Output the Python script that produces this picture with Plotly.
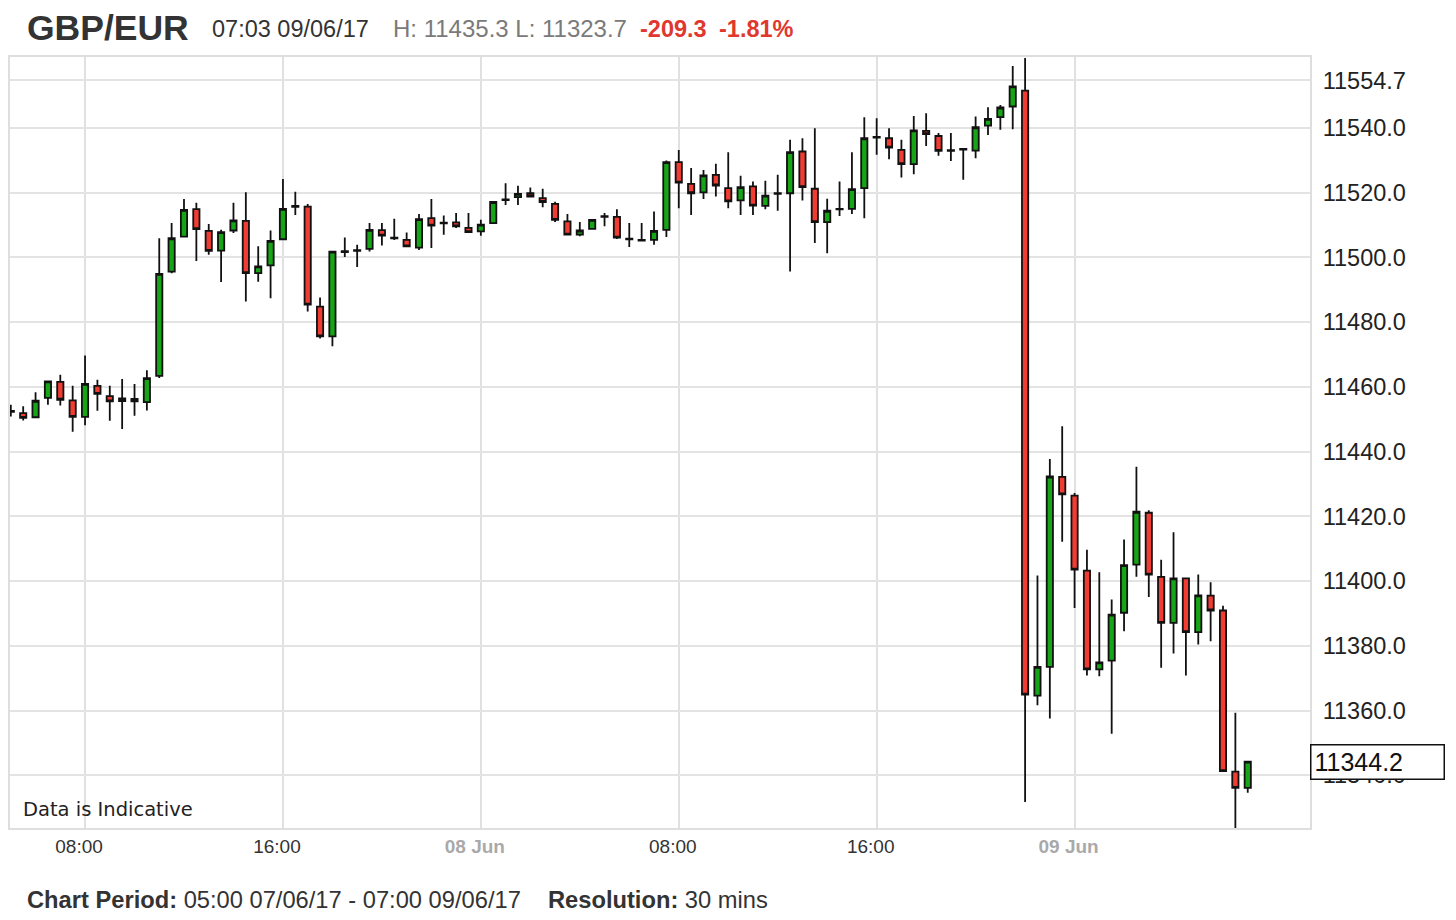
import pandas as pd
import plotly.graph_objects as go

# ---------------- data ----------------
start_time = "2017-06-07 05:00"
n_candles = 101
times = pd.date_range(start_time, periods=n_candles, freq="30min")

opens = [11452.6, 11451.9, 11450.6, 11456.6, 11461.5, 11455.8, 11450.7, 11460.3, 11457.1, 11455.6,
         11456.3, 11455.3, 11463.4, 11495.6, 11506.4, 11514.9, 11508.2, 11502.1, 11508.3, 11511.3,
         11495.1, 11497.5, 11505.6, 11515.9, 11515.7, 11484.8, 11475.6, 11501.6, 11502.0, 11502.6,
         11508.4, 11506.1, 11505.4, 11503.0, 11512.1, 11510.7, 11510.8, 11509.1, 11508.0, 11510.6,
         11517.7, 11518.6, 11519.8, 11518.3, 11516.5, 11511.1, 11507.0, 11508.8, 11512.5, 11512.5,
         11505.8, 11505.4, 11505.4, 11508.5, 11529.4, 11522.7, 11520.1, 11525.5, 11521.4, 11517.6,
         11521.9, 11515.9, 11519.6, 11519.8, 11532.7, 11521.2, 11510.9, 11514.8, 11515.0, 11521.4,
         11537.0, 11536.8, 11533.2, 11528.8, 11539.1, 11537.5, 11533.1, 11533.3, 11533.0, 11540.7,
         11543.3, 11546.6, 11551.5, 11364.6, 11373.5, 11432.2, 11426.4, 11403.2, 11372.7, 11375.4,
         11390.2, 11405.1, 11421.1, 11401.3, 11387.1, 11400.8, 11384.2, 11395.5, 11390.9, 11341.1,
         11336.1]
highs = [11454.5, 11454.0, 11458.3, 11461.9, 11463.7, 11460.3, 11469.7, 11462.2, 11460.3, 11462.4,
         11460.9, 11465.1, 11505.9, 11510.6, 11518.0, 11516.9, 11510.3, 11508.5, 11516.9, 11520.1,
         11503.4, 11508.3, 11524.2, 11520.3, 11516.5, 11487.6, 11502.0, 11506.1, 11503.9, 11510.6,
         11510.6, 11511.9, 11507.7, 11513.4, 11518.0, 11512.9, 11513.7, 11513.7, 11511.6, 11517.3,
         11522.9, 11522.1, 11521.6, 11521.2, 11517.2, 11513.4, 11510.9, 11511.8, 11513.7, 11514.9,
         11510.6, 11510.6, 11514.2, 11529.9, 11533.2, 11527.6, 11527.0, 11528.9, 11532.5, 11525.2,
         11523.4, 11523.7, 11525.5, 11536.3, 11536.8, 11539.9, 11518.1, 11523.4, 11532.5, 11543.3,
         11543.0, 11539.9, 11536.3, 11543.7, 11544.5, 11538.4, 11538.4, 11533.6, 11543.5, 11546.4,
         11547.1, 11559.1, 11561.6, 11401.7, 11437.7, 11447.8, 11427.2, 11409.7, 11402.7, 11394.3,
         11412.8, 11435.3, 11421.9, 11406.6, 11415.1, 11401.0, 11402.0, 11399.6, 11392.4, 11359.3,
         11344.4]
lows = [11450.8, 11449.6, 11450.4, 11454.5, 11454.2, 11446.1, 11448.1, 11452.6, 11449.5, 11447.0,
        11451.1, 11452.7, 11462.7, 11495.1, 11506.2, 11498.9, 11500.8, 11492.4, 11507.5, 11486.4,
        11492.5, 11487.4, 11505.4, 11513.1, 11483.3, 11474.9, 11472.5, 11500.1, 11497.0, 11501.8,
        11503.7, 11505.4, 11503.2, 11502.3, 11502.9, 11507.0, 11509.1, 11507.6, 11506.7, 11510.4,
        11516.2, 11516.2, 11518.6, 11515.5, 11510.9, 11506.8, 11506.5, 11508.5, 11509.6, 11505.7,
        11503.2, 11505.0, 11503.9, 11506.3, 11515.2, 11513.1, 11518.0, 11518.8, 11515.2, 11513.1,
        11513.1, 11514.9, 11514.4, 11495.6, 11517.6, 11504.4, 11501.3, 11512.8, 11513.4, 11512.1,
        11531.7, 11530.3, 11524.7, 11525.7, 11534.4, 11531.4, 11529.8, 11524.0, 11530.6, 11537.8,
        11539.4, 11539.6, 11331.7, 11361.6, 11357.5, 11412.1, 11391.7, 11370.8, 11370.6, 11352.8,
        11384.5, 11401.3, 11395.1, 11373.2, 11377.6, 11370.8, 11380.4, 11381.4, 11341.3, 11323.7,
        11334.6]
closes = [11452.3, 11450.4, 11455.7, 11461.7, 11456.0, 11450.7, 11460.9, 11457.8, 11455.5, 11456.4,
          11455.5, 11462.7, 11494.9, 11505.9, 11514.7, 11508.7, 11502.0, 11507.8, 11511.4, 11495.1,
          11497.2, 11505.1, 11515.0, 11515.6, 11485.4, 11475.6, 11501.8, 11501.9, 11502.2, 11508.5,
          11506.7, 11505.9, 11503.4, 11511.8, 11509.8, 11510.5, 11509.6, 11507.8, 11510.1, 11517.1,
          11517.9, 11519.6, 11518.8, 11517.1, 11511.6, 11507.0, 11508.3, 11511.6, 11512.7, 11506.1,
          11505.6, 11505.2, 11508.2, 11529.4, 11523.1, 11519.8, 11525.3, 11522.2, 11517.3, 11521.7,
          11516.0, 11519.1, 11519.8, 11532.5, 11521.7, 11510.9, 11514.4, 11515.0, 11521.1, 11536.8,
          11537.2, 11533.9, 11528.8, 11539.2, 11538.1, 11532.9, 11532.9, 11533.5, 11540.2, 11542.8,
          11546.3, 11552.8, 11364.9, 11373.5, 11432.3, 11426.8, 11403.5, 11372.7, 11374.9, 11389.6,
          11404.9, 11421.4, 11402.0, 11387.1, 11400.8, 11384.2, 11395.6, 11390.9, 11341.3, 11336.1,
          11344.2]

y_tick_values = [11340, 11360, 11380, 11400, 11420, 11440, 11460, 11480, 11500, 11520, 11540, 11554.7]
y_tick_labels = ["11340.0", "11360.0", "11380.0", "11400.0", "11420.0", "11440.0", "11460.0",
                 "11480.0", "11500.0", "11520.0", "11540.0", "11554.7"]
x_tick_values = ["2017-06-07 08:00", "2017-06-07 16:00", "2017-06-08 00:00",
                 "2017-06-08 08:00", "2017-06-08 16:00", "2017-06-09 00:00"]
x_tick_labels = ["08:00", "16:00", "08 Jun", "08:00", "16:00", "09 Jun"]
date_labels = {"08 Jun", "09 Jun"}

title_symbol = "GBP/EUR"
title_time = "07:03 09/06/17"
title_hilo = "H: 11435.3 L: 11323.7"
title_change = "-209.3"
title_pct = "-1.81%"
last_price = 11344.2
period_text = "05:00 07/06/17 - 07:00 09/06/17"
resolution_text = "30 mins"

# ---------------- figure ----------------
# the page body has an 8px margin, so figure coords = page coords - 8
OFF = 8
W, H = 1440, 904
PL, PR, PT, PB = 8, 1310, 57, 828          # plot area in page pixels
L, T = PL - OFF, PT - OFF
R, B = W - (PR - OFF), H - (PB - OFF)
PW, PH = PR - PL, PB - PT


def px(xpage):
    return (xpage - PL) / PW


def py(ypage):
    return (PB - ypage) / PH


FONT = "Liberation Sans, Arial, sans-serif"

fig = go.Figure()
fig.add_trace(go.Candlestick(
    x=times, open=opens, high=highs, low=lows, close=closes,
    increasing=dict(line=dict(color="#111111", width=1.8), fillcolor="#16a516"),
    decreasing=dict(line=dict(color="#111111", width=1.8), fillcolor="#f03c33"),
    whiskerwidth=0,
    showlegend=False,
    hoverinfo="skip",
))

ticktext = []
for t in x_tick_labels:
    if t in date_labels:
        ticktext.append("<b><span style='color:#a9a9a9'>%s</span></b>" % t)
    else:
        ticktext.append(t)

fig.update_layout(
    width=W, height=H,
    margin=dict(l=L, r=R, t=T, b=B, pad=0),
    paper_bgcolor="white", plot_bgcolor="white",
    boxgap=0.28,
    showlegend=False,
    xaxis=dict(
        type="date",
        range=["2017-06-07 04:58", "2017-06-09 09:31"],
        rangeslider=dict(visible=False),
        tickmode="array", tickvals=x_tick_values, ticktext=ticktext,
        showgrid=True, gridcolor="#e0e0e0", gridwidth=2,
        showline=True, mirror=True, linecolor="#dedede", linewidth=2,
        ticks="", ticklabelstandoff=0, ticklabelshift=-6,
        tickfont=dict(family=FONT, size=19, color="#333333"),
        zeroline=False, fixedrange=True,
    ),
    yaxis=dict(
        side="right",
        range=[11323.7, 11561.9],
        tickmode="array", tickvals=y_tick_values, ticktext=y_tick_labels,
        showgrid=True, gridcolor="#e3e3e3", gridwidth=2,
        showline=True, mirror=True, linecolor="#dedede", linewidth=2,
        ticks="", ticklabelstandoff=6,
        tickfont=dict(family=FONT, size=23.5, color="#222222"),
        zeroline=False, fixedrange=True,
    ),
)

anns = [
    dict(text="<b>%s</b>" % title_symbol, x=px(23), y=py(28), font=dict(family=FONT, size=35.5, color="#333333")),
    dict(text=title_time, x=px(208), y=py(29), font=dict(family=FONT, size=23.5, color="#333333")),
    dict(text=title_hilo, x=px(390), y=py(29), font=dict(family=FONT, size=24, color="#7a7a7a")),
    dict(text="<b>%s</b>" % title_change, x=px(637), y=py(29), font=dict(family=FONT, size=23.5, color="#e0382e")),
    dict(text="<b>%s</b>" % title_pct, x=px(716), y=py(29), font=dict(family=FONT, size=23.5, color="#e0382e")),
    dict(text="Data is Indicative", x=px(19), y=py(809), font=dict(family="DejaVu Sans, Verdana, sans-serif", size=19.5, color="#222222")),
    dict(text="<b>Chart Period:</b> %s" % period_text, x=px(23), y=py(900), font=dict(family=FONT, size=23.7, color="#333333")),
    dict(text="<b>Resolution:</b> %s" % resolution_text, x=px(545), y=py(900), font=dict(family=FONT, size=23.7, color="#333333")),
]
for a in anns:
    a.update(xref="paper", yref="paper", xanchor="left", yanchor="middle", showarrow=False)
    fig.add_annotation(**a)

fig.add_annotation(
    text=str(last_price), xref="paper", yref="y", x=1.0, y=last_price,
    xanchor="left", yanchor="middle", showarrow=False, align="left",
    width=126, height=27, borderpad=3, borderwidth=1.5,
    bordercolor="#111111", bgcolor="white",
    font=dict(family=FONT, size=25, color="#111111"),
)

fig.write_html("out.html")
